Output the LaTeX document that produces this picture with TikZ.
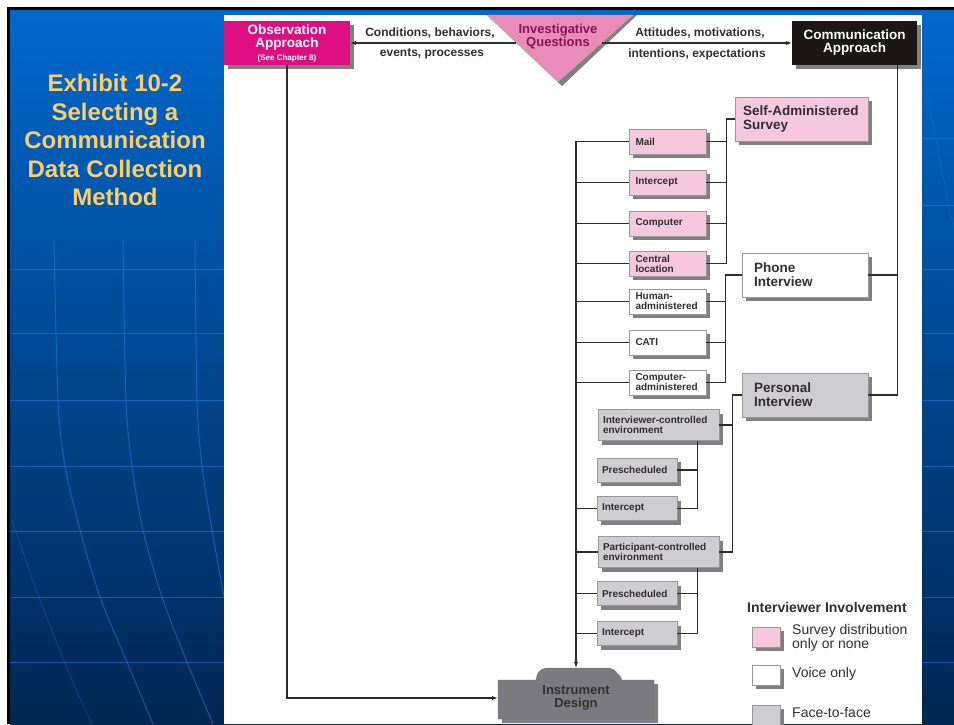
\documentclass[tikz,border=0pt]{standalone}
\usepackage{fontspec}
\setmainfont{Liberation Sans}
\usetikzlibrary{shadows}
\usetikzlibrary{arrows.meta}
\hyphenpenalty=10000
\exhyphenpenalty=10000
\definecolor{slidetop}{RGB}{0,104,204}
\definecolor{slidebot}{RGB}{0,38,82}
\definecolor{globe}{RGB}{30,120,225}
\definecolor{titlegold}{RGB}{255,204,102}
\definecolor{obsmag}{RGB}{222,14,128}
\definecolor{commblack}{RGB}{28,22,22}
\definecolor{quespink}{RGB}{234,140,186}
\definecolor{queswine}{RGB}{138,20,78}
\definecolor{boxpink}{RGB}{246,200,224}
\definecolor{boxgray}{RGB}{205,205,210}
\definecolor{instgray}{RGB}{122,122,128}
\definecolor{wireink}{RGB}{45,45,45}
\definecolor{inktext}{RGB}{50,45,50}

\begin{document}
\begin{tikzpicture}[x=1pt, y=-1pt, >={Latex[length=6pt,width=4.5pt]},
  shadowed/.style={drop shadow={shadow xshift=4pt, shadow yshift=-4pt, fill=black!50, opacity=1}},
  wire/.style={draw=wireink, line width=1.1pt},
  globe line/.style={draw=globe, line width=1pt, opacity=0.6},
  cellbox/.style={shadowed, draw=black!40, line width=0.5pt, align=left, inner ysep=0pt, text=inktext},
  smallbox/.style={cellbox, inner xsep=6.5pt, text width=64pt, minimum height=25pt, font=\bfseries\fontsize{10}{10}\selectfont},
  pinkbox/.style={smallbox, fill=boxpink},
  voicebox/.style={smallbox, fill=white},
  graybox/.style={cellbox, fill=boxgray, inner xsep=5pt, text width=70pt, minimum height=24pt, font=\bfseries\fontsize{10}{10.5}\selectfont},
  envbox/.style={graybox, text width=111pt, minimum height=31pt},
  modebox/.style={cellbox, inner xsep=12pt, text width=102pt, minimum height=44pt, font=\bfseries\fontsize{13.5}{14}\selectfont},
  headbox/.style={shadowed, text=white, align=center, minimum height=44pt, inner sep=0pt, font=\bfseries\fontsize{13.5}{13}\selectfont},
  flowlbl/.style={text=inktext, inner sep=0pt, font=\bfseries\fontsize{12}{13}\selectfont},
  swatch/.style={shadowed, draw=black!40, line width=0.5pt, minimum width=28pt, minimum height=20pt, inner sep=0pt},
  keytext/.style={anchor=west, align=left, text=inktext, inner sep=0pt, font=\fontsize{14}{14}\selectfont}
]
\useasboundingbox (0,0) rectangle (954,724);

% slide background
\begin{scope}
  \fill[white] (0,0) rectangle (954,724);
  \fill[black] (7,7) rectangle (954,724);
  \shade[top color=slidetop, bottom color=slidebot] (10,10) rectangle (954,724);
  \foreach \gy in {269,333,400,466,531,597,662}
    \draw[globe line] (10,\gy) -- (224,\gy);
  \foreach \gy in {138,205,269,333,400,466,531,597,662}
    \draw[globe line] (922,\gy) -- (954,\gy);
  \draw[globe line] plot[smooth] coordinates {(54,240) (58,400) (65,466) (80,530) (100,597) (127,662) (153,724)};
  \draw[globe line] plot[smooth] coordinates {(123,240) (126,400) (132,466) (143,530) (162,597) (187,662) (213,724)};
  \draw[globe line] plot[smooth] coordinates {(195,240) (197,400) (202,466) (212,530) (224,597)};
  \draw[globe line, opacity=0.3] plot[smooth] coordinates {(12,520) (40,600) (72,680) (92,724)};
  \draw[globe line, opacity=0.3] (926,90) -- (954,230);
  \node[align=center, text=titlegold, font=\bfseries\fontsize{24}{28.5}\selectfont] (exhibit) at (115,140)
    {Exhibit 10-2\\Selecting a\\Communication\\Data Collection\\Method};
  \fill[white] (224,15) rectangle (922,724);
\end{scope}

% top row
\fill[black!50] (491,15) -- (637,15) -- (562,86) -- cycle;
\filldraw[fill=quespink, draw=black!35] (487,15) -- (633,15) -- (558,82) -- cycle;
\node[text=queswine, align=center, inner sep=0pt, font=\bfseries\fontsize{13}{12.5}\selectfont] (ques) at (558,36.5) {Investigative\\Questions};
\coordinate (quesleft) at (516,43);
\coordinate (quesright) at (602,43);

\node[headbox, fill=obsmag, minimum width=126pt] (obs) at (287,43)
  {Observation\\Approach\\{\fontsize{8}{9}\selectfont (See Chapter 8)}};
\node[headbox, fill=commblack, minimum width=125pt] (comm) at (854.5,43) {Communication\\Approach};

\node[flowlbl] (condlbl) at (430,33) {Conditions, behaviors,};
\node[flowlbl] (eventlbl) at (432,54) {events, processes};
\node[flowlbl] (attlbl) at (700,33) {Attitudes, motivations,};
\node[flowlbl] (intentlbl) at (697,54) {intentions, expectations};

\draw[wire,->] (quesleft) -- (obs);
\draw[wire,->] (quesright) -- (comm);

% survey methods
\node[pinkbox] (mail) at (667.5,141.5) {Mail};
\node[pinkbox] (icept) at (667.5,182.5) {Intercept};
\node[pinkbox] (compu) at (667.5,223.5) {Computer};
\node[pinkbox] (central) at (667.5,263.5) {Central\\location};
\node[voicebox] (human) at (667.5,301.5) {Human-\\administered};
\node[voicebox] (cati) at (667.5,342.5) {CATI};
\node[voicebox] (compadm) at (667.5,382.5) {Computer-\\administered};
\node[envbox] (ivenv) at (658.5,425) {Interviewer-controlled\\environment};
\node[graybox] (preschA) at (637,470) {Prescheduled};
\node[graybox] (iceptA) at (637,508.5) {Intercept};
\node[envbox] (ptenv) at (658.5,552) {Participant-controlled\\environment};
\node[graybox] (preschB) at (637,593.5) {Prescheduled};
\node[graybox] (iceptB) at (637,633.5) {Intercept};

\node[modebox, fill=boxpink, inner xsep=8pt, text width=117pt] (selfadm) at (801.5,119) {Self-Administered\\Survey};
\node[modebox, fill=white] (phone) at (805,275) {Phone\\Interview};
\node[modebox, fill=boxgray] (personal) at (805,395) {Personal\\Interview};

% instrument design
\fill[black!50, shift={(4,4)}] (498,719) -- (498,680) -- (536,680) .. controls (538,671) .. (546,668) -- (609,668) .. controls (617,671) .. (619,680) -- (654,680) -- (654,719) -- cycle;
\filldraw[fill=instgray, draw=black!55] (498,719) -- (498,680) -- (536,680) .. controls (538,671) .. (546,668) -- (609,668) .. controls (617,671) .. (619,680) -- (654,680) -- (654,719) -- cycle;
\node[align=center, text=black!80, minimum width=156pt, minimum height=60pt, inner sep=0pt,
  font=\bfseries\fontsize{13}{13}\selectfont] (instr) at (576,698) {Instrument\\Design};

% connectors
\draw[wire,->] (mail.west) -| (instr.north);
\foreach \n in {icept,compu,central,human,cati,compadm,iceptA,ptenv,preschB,iceptB}
  \draw[wire] (\n.west) -- (\n.west -| instr.north);
\draw[wire,->] (obs.south) |- (instr.west);

\draw[wire] (central.east) -- ++(20,0) |- (selfadm.west);
\foreach \n in {mail,icept,compu} \draw[wire] (\n.east) -- ++(20,0);
\draw[wire] (compadm.east) -- ++(19,0) |- (phone.west);
\foreach \n in {human,cati} \draw[wire] (\n.east) -- ++(19,0);
\draw[wire] (ptenv.east) -- ++(13,0) |- (personal.west);
\draw[wire] (ivenv.east) -- ++(13,0);
\draw[wire] (iceptA.east) -- ++(20,0) coordinate (ivA) -- (ivA |- ivenv.south);
\draw[wire] (preschA.east) -- ++(20,0);
\draw[wire] (iceptB.east) -- ++(20,0) coordinate (ivB) -- (ivB |- ptenv.south);
\draw[wire] (preschB.east) -- ++(20,0);
\draw[wire] (personal.east) -- ++(29,0) coordinate (cv) -- (cv |- comm.south);
\draw[wire] (phone.east) -- (phone.east -| cv);

% legend
\node[anchor=west, inner sep=0pt, text=inktext, font=\bfseries\fontsize{14}{14}\selectfont] (keyhead) at (747,607) {Interviewer Involvement};
\node[swatch, fill=boxpink] (keypink) at (766,637) {};
\node[swatch, fill=white] (keyvoice) at (766,675) {};
\node[swatch, fill=boxgray] (keyface) at (766,715) {};
\node[keytext] (keypinktxt) at (792,638) {Survey distribution\\only or none};
\node[keytext] (keyvoicetxt) at (792,674) {Voice only};
\node[keytext] (keyfacetxt) at (792,712) {Face-to-face};

\end{tikzpicture}
\end{document}
